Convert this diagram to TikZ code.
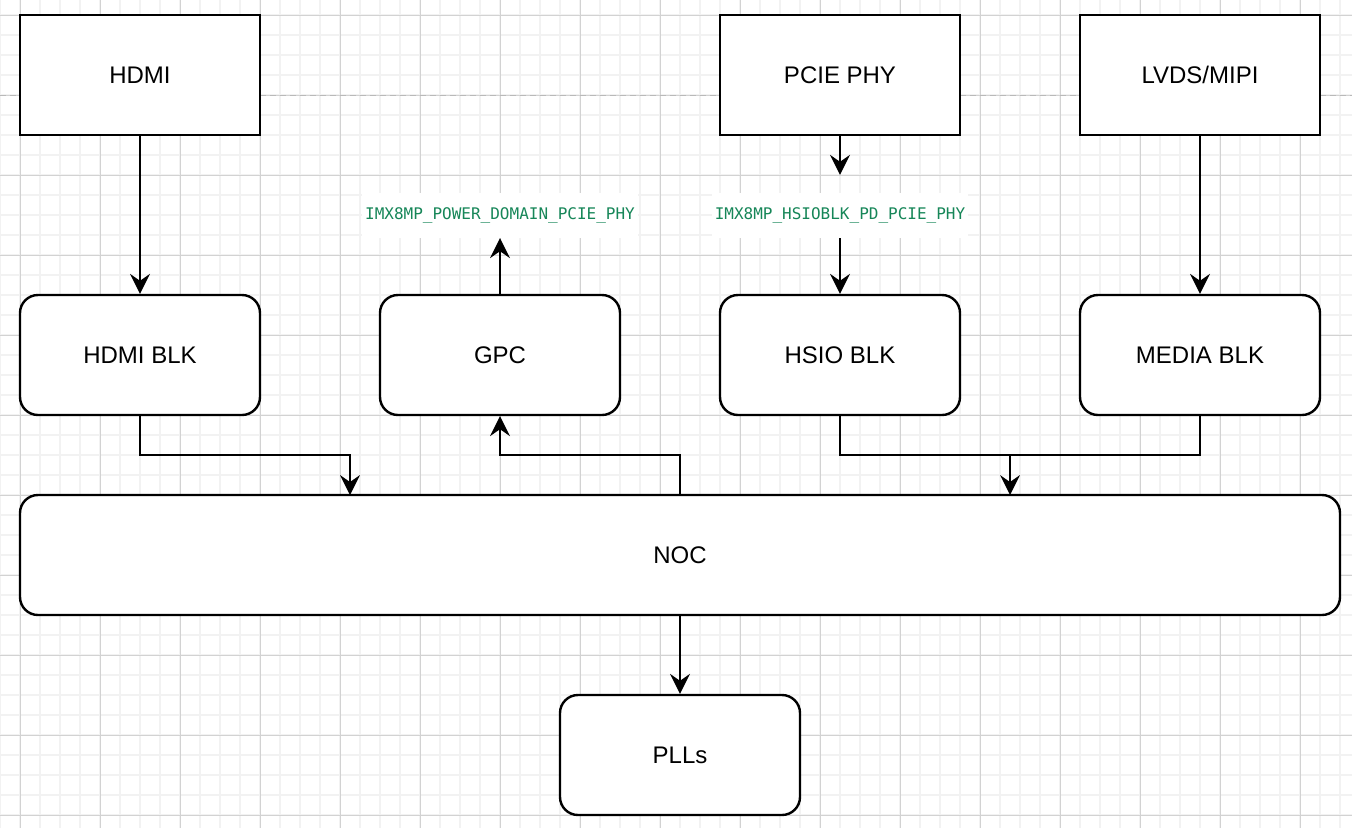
\documentclass[tikz,border=0pt]{standalone}
\usepackage{fontspec}
\setmainfont{Liberation Sans}
\setmonofont{DejaVu Sans Mono}
\usetikzlibrary{arrows.meta,positioning}

\definecolor{gridminor}{RGB}{242,242,242}
\definecolor{gridmajor}{RGB}{210,210,210}
\definecolor{pdgreen}{RGB}{22,134,88}

\tikzset{
    box/.style={draw, line width=2.4pt, fill=white, minimum width=240pt, minimum height=120pt
        , font=\fontsize{24}{28}\selectfont},
    blk/.style={box, rounded corners=18pt},
    pdname/.style={fill=white, text=pdgreen, inner xsep=3pt, minimum height=45pt
        , font=\ttfamily\fontsize{16}{20}\selectfont},
    wire/.style={line width=2.4pt, -{Stealth[length=20pt,width=20pt,inset=7pt,line width=0pt]}},
}

\begin{document}
\begin{tikzpicture}[x=1pt,y=-1pt]
    \useasboundingbox (0,0) rectangle (1352,828);
    \fill[white] (0,0) rectangle (1352,828);

    % grid
    \foreach \x in {0,20,...,1340} \draw[gridminor, line width=1.5pt] (\x,0) -- (\x,828);
    \foreach \y in {15,35,...,815} \draw[gridminor, line width=1.5pt] (0,\y) -- (1352,\y);
    \foreach \x in {20,100,...,1340} \draw[gridmajor, line width=1pt] (\x,0) -- (\x,828);
    \foreach \y in {15,95,...,815} \draw[gridmajor, line width=1pt] (0,\y) -- (1352,\y);
    \draw[gray!55, line width=1pt, dash pattern=on 6pt off 4pt] (0,95) -- (1352,95);

    % sources
    \node[box] (hdmi) at (140,75) {HDMI};
    \node[box] (pciephy) at (840,75) {PCIE PHY};
    \node[box] (lvds) at (1200,75) {LVDS/MIPI};

    % power domain names
    \node[pdname] (gpcpd) at (500,215.5) {IMX8MP\_POWER\_DOMAIN\_PCIE\_PHY};
    \node[pdname] (hsiopd) at (840,215.5) {IMX8MP\_HSIOBLK\_PD\_PCIE\_PHY};

    % blocks
    \node[blk] (hdmiblk) at (140,355) {HDMI BLK};
    \node[blk] (gpc) at (500,355) {GPC};
    \node[blk] (hsioblk) at (840,355) {HSIO BLK};
    \node[blk] (mediablk) at (1200,355) {MEDIA BLK};
    \node[blk, minimum width=1320pt] (noc) at (680,555) {NOC};
    \node[blk] (plls) at (680,755) {PLLs};

    \draw[wire] (hdmi) -- (hdmiblk);
    \draw[wire] (lvds) -- (mediablk);
    \draw[wire] (pciephy) -- ([yshift=18pt]hsiopd.north);
    \draw[wire] (hsiopd) -- (hsioblk);
    \draw[wire] (gpc) -- (gpcpd);
    \draw[wire] (hdmiblk.south) |- (350,455) -- (350,495);
    \draw[wire] (680,495) |- (500,455) -- (gpc.south);
    \draw[line width=2.4pt] (hsioblk.south) |- (1200,455) -- (mediablk.south);
    \draw[wire] (1010,455) -- (1010,495);
    \draw[wire] (noc) -- (plls);
\end{tikzpicture}
\end{document}
